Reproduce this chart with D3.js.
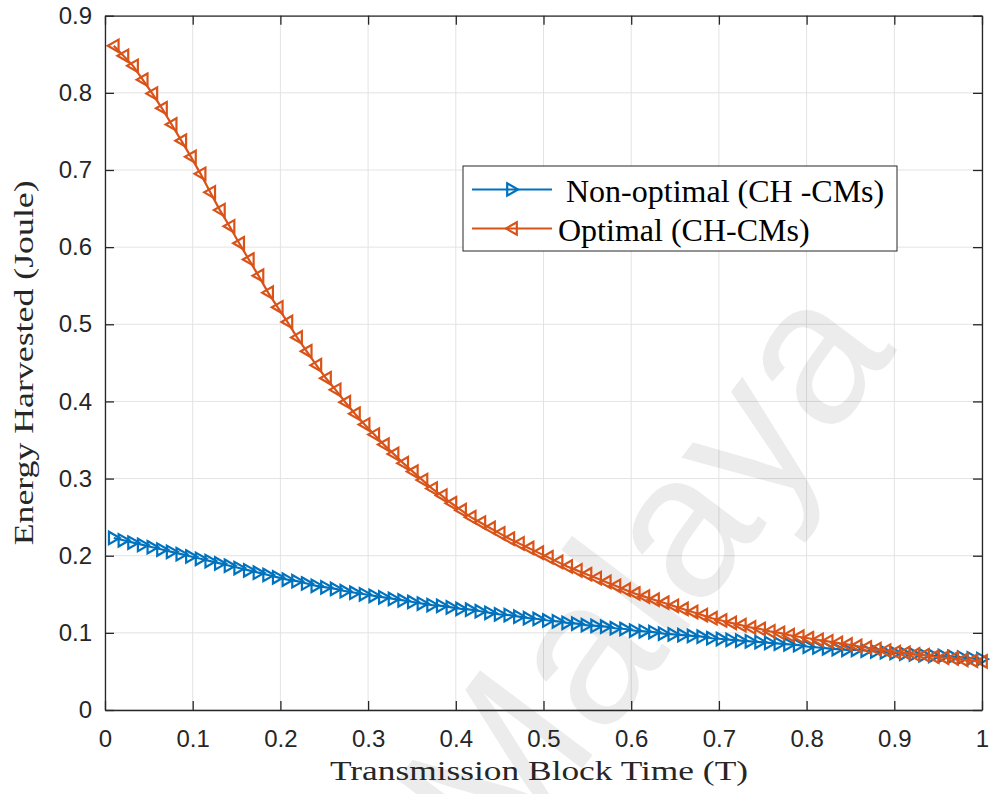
<!DOCTYPE html>
<html>
<head>
  <meta charset="utf-8">
  <title>Energy Harvested vs Transmission Block Time</title>
  <script src="https://d3js.org/d3.v7.min.js"></script>
  <style>
    body { margin: 0; background: #fff; }
  </style>
</head>
<body>
  <div id="chartContainer"></div>
  <script type="text/javascript">
  // transmission block time, one entry per plotted marker
  var blockTime = [
    0.010, 0.021, 0.032, 0.043, 0.054, 0.065, 0.076, 0.087, 0.098, 0.109,
    0.120, 0.131, 0.142, 0.153, 0.164, 0.175, 0.186, 0.197, 0.208, 0.219,
    0.230, 0.241, 0.252, 0.263, 0.274, 0.285, 0.296, 0.307, 0.318, 0.329,
    0.340, 0.351, 0.362, 0.373, 0.384, 0.395, 0.406, 0.417, 0.428, 0.439,
    0.450, 0.461, 0.472, 0.483, 0.494, 0.505, 0.516, 0.527, 0.538, 0.549,
    0.560, 0.571, 0.582, 0.593, 0.604, 0.615, 0.626, 0.637, 0.648, 0.659,
    0.670, 0.681, 0.692, 0.703, 0.714, 0.725, 0.736, 0.747, 0.758, 0.769,
    0.780, 0.791, 0.802, 0.813, 0.824, 0.835, 0.846, 0.857, 0.868, 0.879,
    0.890, 0.901, 0.912, 0.923, 0.934, 0.945, 0.956, 0.967, 0.978, 0.989,
    1.000
  ];

  // Non-optimal (CH -CMs)
  var nonOptimal = [
    0.223, 0.220, 0.217, 0.214, 0.211, 0.208, 0.205, 0.202, 0.199, 0.196,
    0.193, 0.190, 0.187, 0.184, 0.181, 0.178, 0.175, 0.172, 0.169, 0.167,
    0.164, 0.161, 0.159, 0.157, 0.154, 0.152, 0.150, 0.148, 0.146, 0.144,
    0.142, 0.140, 0.138, 0.136, 0.135, 0.133, 0.131, 0.130, 0.128, 0.126,
    0.124, 0.123, 0.121, 0.119, 0.118, 0.116, 0.115, 0.113, 0.112, 0.110,
    0.109, 0.108, 0.106, 0.105, 0.103, 0.102, 0.101, 0.099, 0.098, 0.097,
    0.096, 0.095, 0.093, 0.092, 0.091, 0.090, 0.089, 0.088, 0.087, 0.086,
    0.085, 0.084, 0.082, 0.081, 0.080, 0.079, 0.078, 0.078, 0.077, 0.076,
    0.075, 0.074, 0.073, 0.072, 0.071, 0.070, 0.070, 0.069, 0.068, 0.067,
    0.066
  ];

  // Optimal (CH-CMs)
  var optimal = [
    0.861, 0.848, 0.835, 0.817, 0.799, 0.780, 0.759, 0.738, 0.717, 0.695,
    0.671, 0.648, 0.627, 0.605, 0.584, 0.563, 0.541, 0.522, 0.503, 0.483,
    0.465, 0.447, 0.430, 0.415, 0.399, 0.384, 0.370, 0.357, 0.344, 0.332,
    0.320, 0.309, 0.298, 0.287, 0.278, 0.268, 0.259, 0.250, 0.243, 0.236,
    0.229, 0.222, 0.216, 0.210, 0.204, 0.198, 0.192, 0.186, 0.181, 0.176,
    0.171, 0.166, 0.161, 0.156, 0.151, 0.147, 0.143, 0.139, 0.135, 0.131,
    0.127, 0.123, 0.119, 0.116, 0.113, 0.110, 0.107, 0.105, 0.102, 0.100,
    0.097, 0.095, 0.093, 0.091, 0.089, 0.087, 0.085, 0.083, 0.081, 0.079,
    0.077, 0.075, 0.074, 0.072, 0.071, 0.069, 0.068, 0.067, 0.065, 0.064,
    0.063
  ];

  var xTicks = [0, 0.1, 0.2, 0.3, 0.4, 0.5, 0.6, 0.7, 0.8, 0.9, 1];
  var yTicks = [0, 0.1, 0.2, 0.3, 0.4, 0.5, 0.6, 0.7, 0.8, 0.9];
  var seriesNames = ["\u00A0Non-optimal (CH -CMs)", "Optimal (CH-CMs)"];

  function draw() {
    "use strict";
    var bound_w = 990, bound_h = 794;
    var margin = { left: 105, right: 8, top: 15.7, bottom: 84 };
    var axisColor = "#262626";
    var blue = "#0072BD", orange = "#D95319";

    var svg = d3.select("#chartContainer").append("svg")
      .attr("width", bound_w)
      .attr("height", bound_h);

    var x = d3.scaleLinear().domain([0, 1])
      .range([margin.left, bound_w - margin.right]);
    var y = d3.scaleLinear().domain([0, 0.9])
      .range([bound_h - margin.bottom, margin.top]);

    // grid
    var grid = svg.append("g").attr("stroke", "#e3e3e3").attr("stroke-width", 1);
    grid.selectAll(".gx").data(xTicks).enter().append("line")
      .attr("x1", function (d) { return x(d); }).attr("x2", function (d) { return x(d); })
      .attr("y1", y(0)).attr("y2", y(0.9));
    grid.selectAll(".gy").data(yTicks).enter().append("line")
      .attr("x1", x(0)).attr("x2", x(1))
      .attr("y1", function (d) { return y(d); }).attr("y2", function (d) { return y(d); });

    // watermark (sits under the data)
    svg.append("text")
      .attr("transform", "translate(500,878) rotate(-53)")
      .attr("font-family", "Liberation Sans, Arial, sans-serif")
      .attr("font-size", 205)
      .attr("fill", "#000")
      .attr("fill-opacity", 0.075)
      .text("Malaya");

    // lines + markers
    var line = d3.line()
      .x(function (d) { return x(d[0]); })
      .y(function (d) { return y(d[1]); });

    var rightTri = "M-4.8,-6.2L6,0L-4.8,6.2Z";
    var leftTri = "M4.8,-6.2L-6,0L4.8,6.2Z";

    var series = [
      { name: seriesNames[0], values: nonOptimal, color: blue, marker: rightTri },
      { name: seriesNames[1], values: optimal, color: orange, marker: leftTri }
    ];

    series.forEach(function (s) {
      var pts = blockTime.map(function (t, i) { return [t, s.values[i]]; });
      svg.append("path")
        .datum(pts)
        .attr("d", line)
        .attr("fill", "none")
        .attr("stroke", s.color)
        .attr("stroke-width", 2.2);
      svg.append("g").selectAll("path").data(pts).enter().append("path")
        .attr("transform", function (d) { return "translate(" + x(d[0]) + "," + y(d[1]) + ")"; })
        .attr("d", s.marker)
        .attr("fill", "none")
        .attr("stroke", s.color)
        .attr("stroke-width", 2.2);
    });

    // axes, MATLAB style box with inward ticks
    var tickFont = "Liberation Sans, Arial, Helvetica, sans-serif";
    var fmt = function (d) { return d === 0 ? "0" : d === 1 ? "1" : d3.format(".1f")(d); };

    var gx = svg.append("g").attr("transform", "translate(0," + y(0) + ")")
      .call(d3.axisBottom(x).tickValues(xTicks).tickFormat(fmt).tickSize(-9).tickSizeOuter(0).tickPadding(20));
    var gy = svg.append("g").attr("transform", "translate(" + x(0) + ",0)")
      .call(d3.axisLeft(y).tickValues(yTicks).tickFormat(fmt).tickSize(-9).tickSizeOuter(0).tickPadding(13));
    var gt = svg.append("g").attr("transform", "translate(0," + y(0.9) + ")")
      .call(d3.axisTop(x).tickValues(xTicks).tickFormat("").tickSize(-9).tickSizeOuter(0));
    var gr = svg.append("g").attr("transform", "translate(" + x(1) + ",0)")
      .call(d3.axisRight(y).tickValues(yTicks).tickFormat("").tickSize(-9).tickSizeOuter(0));

    [gx, gy, gt, gr].forEach(function (g) {
      g.selectAll("path, line").attr("stroke", axisColor).attr("stroke-width", 1.3);
      g.selectAll("text").attr("fill", axisColor)
        .attr("font-family", tickFont).attr("font-size", 24);
    });

    // axis titles
    svg.append("text")
      .attr("x", 539).attr("y", 780)
      .attr("text-anchor", "middle")
      .attr("font-family", "Liberation Serif, Times New Roman, serif")
      .attr("font-size", 27)
      .attr("fill", axisColor)
      .attr("textLength", 418).attr("lengthAdjust", "spacingAndGlyphs")
      .text("Transmission Block Time (T)");

    svg.append("text")
      .attr("transform", "translate(33," + ((y(0) + y(0.9)) / 2) + ") rotate(-90)")
      .attr("text-anchor", "middle")
      .attr("font-family", "Liberation Serif, Times New Roman, serif")
      .attr("font-size", 27)
      .attr("fill", axisColor)
      .attr("textLength", 365).attr("lengthAdjust", "spacingAndGlyphs")
      .text("Energy Harvested (Joule)");

    // legend
    var legend = svg.append("g");
    legend.append("rect")
      .attr("x", 463).attr("y", 166).attr("width", 434).attr("height", 85)
      .attr("fill", "#fff").attr("stroke", axisColor).attr("stroke-width", 1);
    var rows = [
      { y: 189.5, textX: 558, base: 201.5 },
      { y: 228.5, textX: 558, base: 240.5 }
    ];
    series.forEach(function (s, i) {
      var r = rows[i];
      legend.append("line")
        .attr("x1", 472).attr("x2", 552).attr("y1", r.y).attr("y2", r.y)
        .attr("stroke", s.color).attr("stroke-width", 2.2);
      legend.append("path")
        .attr("transform", "translate(512," + r.y + ")")
        .attr("d", s.marker)
        .attr("fill", "none").attr("stroke", s.color).attr("stroke-width", 2.2);
      legend.append("text")
        .attr("x", r.textX).attr("y", r.base)
        .attr("font-family", "Liberation Serif, Times New Roman, serif")
        .attr("font-size", 32)
        .attr("fill", "#000")
        .text(s.name);
    });
  }

  draw();
  </script>
</body>
</html>
